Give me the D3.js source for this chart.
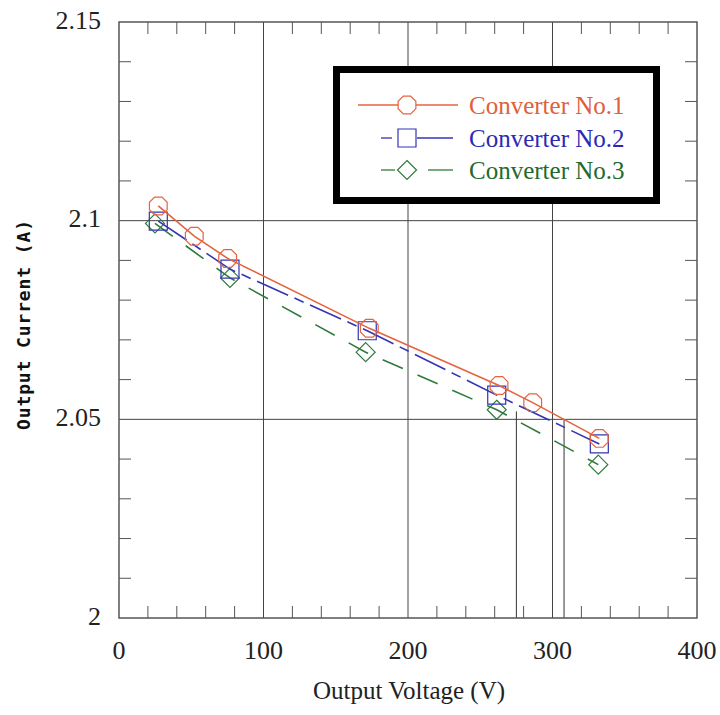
<!DOCTYPE html>
<html>
<head>
<meta charset="utf-8">
<script src="https://cdn.jsdelivr.net/npm/d3@7"></script>
<style>
  body { margin: 0; background: #fff; }
  svg { display: block; }
</style>
</head>
<body>
<svg id="chart" width="720" height="715"></svg>
<script>
// values
var conv1V = [27.2, 52.1, 75.2, 173.2, 263.0, 286.3, 332.4];
var conv1I = [2.1037, 2.0961, 2.0905, 2.0729, 2.0585, 2.0542, 2.0452];
var conv2V = [27.2, 76.8, 171.8, 261.4, 332.4];
var conv2I = [2.0999, 2.0878, 2.0723, 2.0561, 2.0438];
var conv3V = [24.9, 76.8, 170.7, 261.4, 331.7];
var conv3I = [2.0993, 2.0856, 2.0669, 2.0524, 2.0386];
var dropV = [275, 308];
var dropTop = [2.052, 2.05];

var xTicks = [0, 100, 200, 300, 400];
var yTicks = [2, 2.05, 2.1, 2.15];
var seriesNames = ["Converter No.1", "Converter No.2", "Converter No.3"];

var svg = d3.select("#chart");
var x = d3.scaleLinear().domain([0, 400]).range([119, 697]);
var y = d3.scaleLinear().domain([2, 2.15]).range([618, 22]);

var serif = "'Liberation Serif', 'Times New Roman', serif";
var axisCol = "#555";

// minor ticks on all four sides
var xMinor = d3.range(20, 400, 20).filter(function(v) { return v % 100 != 0; });
var yMinor = d3.range(1, 15).map(function(i) { return 2 + i * 0.01; }).filter(function(v, i) { return (i + 1) % 5 != 0; });

var g = svg.append("g");
xMinor.forEach(function(v) {
  g.append("line").attr("x1", x(v)).attr("x2", x(v)).attr("y1", y(2)).attr("y2", y(2) - 12)
    .attr("stroke", axisCol).attr("stroke-width", 1);
  g.append("line").attr("x1", x(v)).attr("x2", x(v)).attr("y1", y(2.15)).attr("y2", y(2.15) + 12)
    .attr("stroke", axisCol).attr("stroke-width", 1);
});
yMinor.forEach(function(v) {
  g.append("line").attr("x1", x(0)).attr("x2", x(0) + 12).attr("y1", y(v)).attr("y2", y(v))
    .attr("stroke", axisCol).attr("stroke-width", 1);
  g.append("line").attr("x1", x(400)).attr("x2", x(400) - 12).attr("y1", y(v)).attr("y2", y(v))
    .attr("stroke", axisCol).attr("stroke-width", 1);
});

// grid lines at the major ticks
xTicks.slice(1, 4).forEach(function(v) {
  g.append("line").attr("x1", x(v)).attr("x2", x(v)).attr("y1", y(2)).attr("y2", y(2.15))
    .attr("stroke", "#444").attr("stroke-width", 1);
});
yTicks.slice(1, 3).forEach(function(v) {
  g.append("line").attr("x1", x(0)).attr("x2", x(400)).attr("y1", y(v)).attr("y2", y(v))
    .attr("stroke", "#444").attr("stroke-width", 1);
});

// drop lines down to the voltage axis
dropV.forEach(function(v, i) {
  g.append("line").attr("x1", x(v)).attr("x2", x(v)).attr("y1", y(dropTop[i])).attr("y2", y(2))
    .attr("stroke", "#333").attr("stroke-width", 1);
});

// frame
g.append("rect").attr("x", x(0)).attr("y", y(2.15)).attr("width", x(400) - x(0)).attr("height", y(2) - y(2.15))
  .attr("fill", "none").attr("stroke", axisCol).attr("stroke-width", 1.5);

// tick labels
svg.selectAll("text.xt").data(xTicks).enter().append("text")
  .attr("x", function(d) { return x(d); }).attr("y", 650)
  .attr("text-anchor", "middle").attr("dominant-baseline", "central")
  .style("font-family", serif).style("font-size", "26px").attr("fill", "#222")
  .text(function(d) { return d; });
svg.selectAll("text.yt").data(yTicks).enter().append("text")
  .attr("x", 101).attr("y", function(d) { return y(d) - 2; })
  .attr("text-anchor", "end").attr("dominant-baseline", "central")
  .style("font-family", serif).style("font-size", "26px").attr("fill", "#222")
  .text(function(d) { return d; });

svg.append("text").attr("x", 409).attr("y", 690)
  .attr("text-anchor", "middle").attr("dominant-baseline", "central")
  .style("font-family", serif).style("font-size", "25px").attr("fill", "#222")
  .text("Output Voltage (V)");
svg.append("text").attr("transform", "translate(23,325) rotate(-90)")
  .attr("text-anchor", "middle").attr("dominant-baseline", "central")
  .style("font-family", "'DejaVu Sans Mono', monospace").style("font-size", "18px").style("font-weight", "bold")
  .attr("textLength", 210).attr("fill", "#111")
  .text("Output Current (A)");

// markers
function octagon(r) {
  var pts = d3.range(8).map(function(k) {
    var a = Math.PI / 8 + k * Math.PI / 4;
    return [r * Math.cos(a), r * Math.sin(a)];
  });
  return "M" + pts.join("L") + "Z";
}
function square(h) { return "M" + -h + "," + -h + "H" + h + "V" + h + "H" + -h + "Z"; }
function diamond(h) { return "M0," + -h + "L" + h + ",0L0," + h + "L" + -h + ",0Z"; }

var series = [
  { vx: conv1V, vy: conv1I, color: "#e4643f", text: "#e0603a", dash: null, mark: octagon(9.6) },
  { vx: conv2V, vy: conv2I, color: "#3434b4", text: "#2a2ab4", dash: "34,7,10,7", mark: square(9) },
  { vx: conv3V, vy: conv3I, color: "#2f7a3c", text: "#1f6a2c", dash: "22,16", mark: diamond(9.5) }
];

var line = d3.line().x(function(d) { return x(d[0]); }).y(function(d) { return y(d[1]); });

series.slice().reverse().forEach(function(s) {
  var pts = s.vx.map(function(v, i) { return [v, s.vy[i]]; });
  svg.append("path").attr("d", line(pts)).attr("fill", "none")
    .attr("stroke", s.color).attr("stroke-width", 1.6)
    .attr("stroke-dasharray", s.dash);
  svg.selectAll(null).data(pts).enter().append("path")
    .attr("transform", function(d) { return "translate(" + x(d[0]) + "," + y(d[1]) + ")"; })
    .attr("d", s.mark).attr("fill", "none").attr("stroke", s.color).attr("stroke-width", 1.2);
});

// legend
var lg = svg.append("g");
lg.append("rect").attr("x", 336.5).attr("y", 69.5).attr("width", 320).attr("height", 131)
  .attr("fill", "#fff").attr("stroke", "#000").attr("stroke-width", 7);
var legendRows = [105, 138, 170];
var legendSegs = [[[358, 458]], [[381, 392], [417, 453]], [[381, 395], [428, 453]]];
series.forEach(function(s, i) {
  var ry = legendRows[i];
  legendSegs[i].forEach(function(seg) {
    lg.append("line").attr("x1", seg[0]).attr("x2", seg[1]).attr("y1", ry).attr("y2", ry)
      .attr("stroke", s.color).attr("stroke-width", 1.3);
  });
  lg.append("path").attr("transform", "translate(407," + ry + ")").attr("d", s.mark)
    .attr("fill", "#fff").attr("stroke", s.color).attr("stroke-width", 1.2);
  lg.append("text").attr("x", 469).attr("y", ry)
    .attr("dominant-baseline", "central")
    .style("font-family", serif).style("font-size", "25px").attr("fill", s.text)
    .text(seriesNames[i]);
});
</script>
</body>
</html>
